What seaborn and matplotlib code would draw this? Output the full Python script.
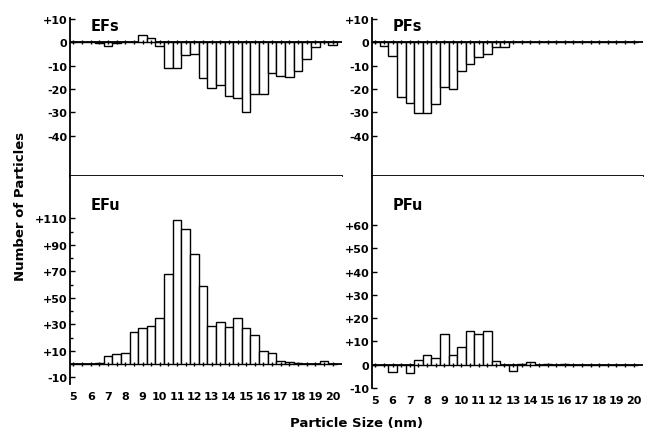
import numpy as np
import pandas as pd
import seaborn as sns
import matplotlib.pyplot as plt
from matplotlib.ticker import FixedLocator

# particle size bins (nm), 0.5 nm wide
sizes = [5.0, 5.5, 6.0, 6.5, 7.0, 7.5, 8.0, 8.5, 9.0, 9.5, 10.0, 10.5, 11.0, 11.5,
         12.0, 12.5, 13.0, 13.5, 14.0, 14.5, 15.0, 15.5, 16.0, 16.5, 17.0, 17.5,
         18.0, 18.5, 19.0, 19.5, 20.0]

efs = [0, 0, 0, -0.5, -1.5, -0.5, 0, 0, 3, 2, -1.5, -11, -11, -5.5, -5,
       -15.5, -19.5, -18.5, -23, -24, -30, -22, -22, -13, -14.5, -15, -12.5,
       -7, -2, 0, -1]
pfs = [0, -1.5, -6, -23.5, -26, -30.5, -30.5, -26.5, -19, -20, -12.5, -9.5,
       -6.5, -5, -2, -2, 0, 0, 0, 0, 0, 0, 0, 0, 0, 0, 0, 0, 0, 0, 0]
efu = [0, 0, 0, 1, 6, 7.5, 8.5, 24, 27, 29, 35, 68, 109, 102, 83, 59, 29, 32,
       28, 35, 27, 22, 10, 8, 2.5, 1.5, 0.5, 0, 0, 2, 0]
pfu = [0, 0, -3.3, 0, -3.6, 2.2, 4.3, 2.8, 13, 4, 7.5, 14.3, 13.3, 14.3, 1.7,
       0, -2.5, 0.3, 1, 0, 0.3, 0, 0.3, 0, 0, 0, 0, 0, 0, 0, 0]

panel_names = ["EFs", "PFs", "EFu", "PFu"]
top_ticks = [10, 0, -10, -20, -30, -40]
efu_ticks = [110, 90, 70, 50, 30, 10, -10]
efu_minor = [100, 80, 60, 40, 20, 0]
pfu_ticks = [60, 50, 40, 30, 20, 10, 0, -10]
x_ticks = list(range(5, 21))


def fmt(v):
    return f"+{v}" if v > 0 else str(v)


sns.set_style("ticks")
plt.rcParams["font.family"] = ["DejaVu Sans"]
plt.rcParams["font.weight"] = "bold"
for key in ["text.color", "axes.labelcolor", "xtick.color", "ytick.color",
            "axes.edgecolor"]:
    plt.rcParams[key] = "black"

W, H = 655, 435
fig = plt.figure(figsize=(6.55, 4.35), dpi=100)


def px_axes(x0, x1, y0, y1):
    return fig.add_axes([x0 / W, 1 - y1 / H, (x1 - x0) / W, (y1 - y0) / H])


ax_efs = px_axes(70, 342, 19, 177)
ax_pfs = px_axes(372, 643, 19, 177)
ax_efu = px_axes(70, 342, 177, 385)
ax_pfu = px_axes(372, 643, 177, 389)

panels = [
    (ax_efs, efs, (-57.3, 10.4), top_ticks, None, True),
    (ax_pfs, pfs, (-57.3, 10.4), top_ticks, None, True),
    (ax_efu, efu, (-15.1, 142), efu_ticks, efu_minor, False),
    (ax_pfu, pfu, (-10, 81), pfu_ticks, None, False),
]

for (ax, vals, ylim, yt, minor, is_top), name in zip(panels, panel_names):
    df = pd.DataFrame({"size": sizes, "count": vals})
    sns.barplot(data=df, x="size", y="count", native_scale=True, width=1.0,
                color="white", saturation=1, edgecolor="black", linewidth=1.0,
                errorbar=None, ax=ax, zorder=3)
    ax.axhline(0, color="black", lw=1.3, zorder=2)
    ax.plot(sizes, [0] * len(sizes), "|", color="black", ms=3.5, mew=1.0, zorder=4)
    ax.set_xlim(4.8, 20.55)
    ax.set_ylim(*ylim)
    ax.set_yticks(yt)
    ax.set_yticklabels([fmt(v) for v in yt], fontsize=8, fontweight="bold")
    if minor:
        ax.yaxis.set_minor_locator(FixedLocator(minor))
        ax.tick_params(axis="y", which="minor", direction="in", length=2.5, width=1)
    ax.tick_params(axis="y", direction="in", length=3.5, width=1, pad=2)
    ax.set_xlabel("")
    ax.set_ylabel("")
    ax.spines["right"].set_visible(False)
    ax.spines["top"].set_visible(False)
    ax.spines["left"].set_linewidth(1.3)
    ax.set_facecolor("white")
    if is_top:
        ax.spines["bottom"].set_linewidth(1.3)
        ax.set_xticks([])
        ax.text(0.075, 1.0, name, transform=ax.transAxes, fontsize=10.5,
                fontweight="bold", va="top", ha="left")
    else:
        ax.spines["bottom"].set_visible(False)
        ax.set_xticks(x_ticks)
        ax.set_xticklabels([str(v) for v in x_ticks], fontsize=8, fontweight="bold")
        ax.tick_params(axis="x", length=0, pad=5)
        ax.text(0.075, 0.9, name, transform=ax.transAxes, fontsize=10.5,
                fontweight="bold", va="top", ha="left")

fig.text(0.031, 0.525, "Number of Particles", rotation=90, fontsize=9.5,
         fontweight="bold", ha="center", va="center")
fig.text(0.544, 0.027, "Particle Size (nm)", fontsize=9.5, fontweight="bold",
         ha="center", va="center")

fig.savefig("out.png", dpi=100, facecolor="white")
